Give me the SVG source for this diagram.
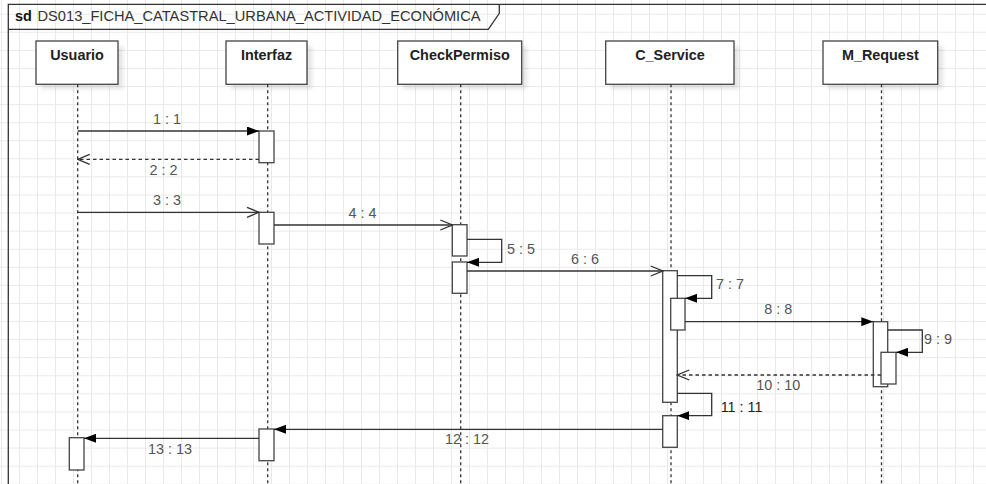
<svg xmlns="http://www.w3.org/2000/svg" width="986" height="484" viewBox="0 0 986 484">
  <defs>
    <pattern id="grid" patternUnits="userSpaceOnUse" x="1" y="13.7" width="18" height="18.08">
      <path d="M0 0.5 H18 M0.5 0 V18.08" fill="none" stroke="#e9e9e9" stroke-width="1"/>
    </pattern>
    <filter id="shadow" x="-20%" y="-20%" width="150%" height="160%">
      <feGaussianBlur stdDeviation="2"/>
    </filter>
    <marker id="solidHead" viewBox="0 0 12 9" markerWidth="12" markerHeight="9" refX="12" refY="4.5" orient="auto" markerUnits="userSpaceOnUse">
      <path d="M0 0 L12 4.5 L0 9 Z" fill="#000"/>
    </marker>
    <marker id="openHead" viewBox="-1 -1 14 12" markerWidth="14" markerHeight="12" refX="12" refY="5" orient="auto" markerUnits="userSpaceOnUse">
      <path d="M0 0 L12 5 L0 10" fill="none" stroke="#333" stroke-width="1.3" stroke-dasharray="none"/>
    </marker>
  </defs>
  <style>
    text { font-family: "Liberation Sans", Arial, Helvetica, sans-serif; }
    .frame { fill: none; stroke: #333; stroke-width: 1.3; }
    .head { fill: #fff; stroke: #444; stroke-width: 1.3; }
    .shadow { fill: #000; opacity: 0.1; filter: url(#shadow); }
    .headText { font-size: 14.4px; font-weight: bold; fill: #222; text-anchor: middle; }
    .life { stroke: #333; stroke-width: 1.3; stroke-dasharray: 3 3; fill: none; }
    .act { fill: #fff; stroke: #444; stroke-width: 1.3; }
    .msg { stroke: #333; stroke-width: 1.3; fill: none; }
    .ret { stroke: #333; stroke-width: 1.3; fill: none; stroke-dasharray: 3.5 3; }
    .lbl { font-size: 14.4px; fill: #555; }
    .mid { text-anchor: middle; }
  </style>

  <!-- canvas and grid -->
  <rect x="0" y="0" width="986" height="484" fill="#fff"/>
  <rect x="0" y="0" width="986" height="484" fill="url(#grid)"/>

  <!-- interaction frame -->
  <g id="frame">
    <path class="frame" d="M8.3 490 V4.3 H992"/>
    <path class="frame" d="M8.3 29.3 H488.3 L499.3 13.3 V4.3"/>
    <text x="15" y="20.5" font-size="14.4" fill="#111"><tspan font-weight="bold">sd</tspan><tspan x="37.5" fill="#333" textLength="443" lengthAdjust="spacingAndGlyphs">DS013_FICHA_CATASTRAL_URBANA_ACTIVIDAD_ECONÓMICA</tspan></text>
  </g>

  <!-- lifelines -->
  <g id="usuario">
    <rect class="shadow" x="41" y="46" width="82" height="43"/>
    <rect class="head" x="36" y="41" width="82" height="43.3"/>
    <text class="headText" x="77" y="60">Usuario</text>
    <line class="life" x1="77.7" y1="84.3" x2="77.7" y2="484"/>
    <rect class="act" x="69.3" y="437.7" width="14.7" height="32.3"/>
  </g>

  <g id="interfaz">
    <rect class="shadow" x="231" y="46" width="81" height="43"/>
    <rect class="head" x="226" y="41" width="81" height="43.3"/>
    <text class="headText" x="266.5" y="60">Interfaz</text>
    <line class="life" x1="267.7" y1="84.3" x2="267.7" y2="484"/>
    <rect class="act" x="259" y="131" width="15" height="31.7"/>
    <rect class="act" x="259" y="212.3" width="15" height="31.7"/>
    <rect class="act" x="259" y="429" width="15" height="31.7"/>
  </g>

  <g id="checkPermiso">
    <rect class="shadow" x="403" y="46" width="124" height="43"/>
    <rect class="head" x="397.7" y="41" width="124" height="43.3"/>
    <text class="headText" x="459.7" y="60">CheckPermiso</text>
    <line class="life" x1="460.7" y1="84.3" x2="460.7" y2="484"/>
    <rect class="act" x="452.3" y="224.7" width="14.7" height="31.3"/>
    <rect class="act" x="452.3" y="262" width="14.7" height="31.3"/>
  </g>

  <g id="cService">
    <rect class="shadow" x="611" y="46" width="128" height="43"/>
    <rect class="head" x="605.7" y="41" width="128.3" height="43.3"/>
    <text class="headText" x="670" y="60">C_Service</text>
    <line class="life" x1="671" y1="84.3" x2="671" y2="484"/>
    <rect class="act" x="662.7" y="270.7" width="14.6" height="131.6"/>
    <rect class="act" x="670.7" y="298.3" width="14.3" height="31.7"/>
    <rect class="act" x="662.7" y="415.7" width="14.6" height="31.6"/>
  </g>

  <g id="mRequest">
    <rect class="shadow" x="828" y="46" width="115" height="43"/>
    <rect class="head" x="823" y="41" width="114.7" height="43.3"/>
    <text class="headText" x="880.3" y="60">M_Request</text>
    <line class="life" x1="881.5" y1="84.3" x2="881.5" y2="484"/>
    <rect class="act" x="873.3" y="321.7" width="14.4" height="65"/>
    <rect class="act" x="881" y="352.3" width="15" height="31.7"/>
  </g>

  <!-- messages -->
  <g id="connectors">
    <line class="msg" x1="77.7" y1="131" x2="259" y2="131" marker-end="url(#solidHead)"/>
    <text class="lbl mid" x="167" y="124">1 : 1</text>

    <line class="ret" x1="259" y1="159.3" x2="77.7" y2="159.3" marker-end="url(#openHead)"/>
    <text class="lbl mid" x="163.5" y="174.5">2 : 2</text>

    <line class="msg" x1="77.7" y1="212.3" x2="259" y2="212.3" marker-end="url(#openHead)"/>
    <text class="lbl mid" x="167" y="205.3">3 : 3</text>

    <line class="msg" x1="274" y1="225" x2="452.3" y2="225" marker-end="url(#openHead)"/>
    <text class="lbl mid" x="362.5" y="217.7">4 : 4</text>

    <path class="msg" d="M467 239.3 H501.7 V262.3 H467" marker-end="url(#solidHead)"/>
    <text class="lbl" x="507" y="254">5 : 5</text>

    <line class="msg" x1="467" y1="271" x2="662.7" y2="271" marker-end="url(#openHead)"/>
    <text class="lbl mid" x="585" y="264">6 : 6</text>

    <path class="msg" d="M677.3 275.7 H711.7 V298.3 H685" marker-end="url(#solidHead)"/>
    <text class="lbl" x="716" y="289.3">7 : 7</text>

    <line class="msg" x1="685" y1="321.7" x2="873.3" y2="321.7" marker-end="url(#solidHead)"/>
    <text class="lbl mid" x="778.3" y="314.3">8 : 8</text>

    <path class="msg" d="M887.7 330 H922.3 V352.3 H896" marker-end="url(#solidHead)"/>
    <text class="lbl" x="924" y="344.3">9 : 9</text>

    <line class="ret" x1="881" y1="375" x2="677.3" y2="375" marker-end="url(#openHead)"/>
    <text class="lbl mid" x="778.3" y="390">10 : 10</text>

    <path class="msg" d="M677.3 393.3 H711.7 V415.7 H677.3" marker-end="url(#solidHead)"/>
    <text class="lbl" x="720.7" y="412.3" fill="#222" style="fill:#222">11 : 11</text>

    <line class="msg" x1="662.7" y1="429.3" x2="274" y2="429.3" marker-end="url(#solidHead)"/>
    <text class="lbl mid" x="467" y="444.3">12 : 12</text>

    <line class="msg" x1="259" y1="438.3" x2="84" y2="438.3" marker-end="url(#solidHead)"/>
    <text class="lbl mid" x="170" y="454">13 : 13</text>
  </g>
</svg>
